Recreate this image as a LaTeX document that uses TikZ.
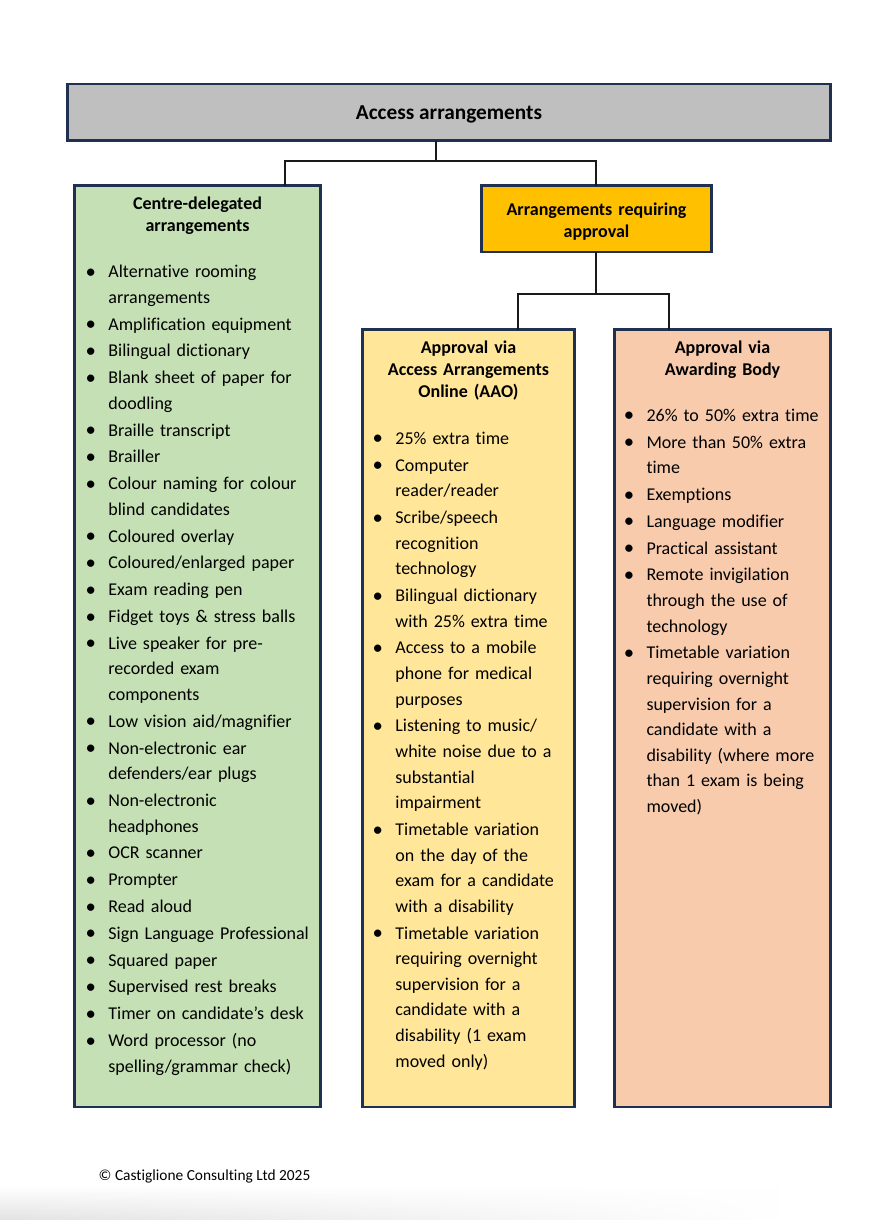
\documentclass[tikz,border=0pt]{standalone}
\usepackage{fontspec}
\setmainfont{Carlito}[Ligatures={NoCommon}]
\usetikzlibrary{fadings}
\definecolor{bordc}{HTML}{1F3050}
\definecolor{greyfill}{HTML}{BFBFBF}
\definecolor{greenfill}{HTML}{C5E0B4}
\definecolor{orangefill}{HTML}{FFC000}
\definecolor{yellowfill}{HTML}{FFE699}
\definecolor{peachfill}{HTML}{F8CBAD}
\newcommand\nl{\hfil\break}
\newlength\itemgap \setlength\itemgap{1.2pt}
\newcommand\fitm{\hangindent=17.5pt\hangafter=1\noindent\strut\makebox[17.5pt][l]{\makebox[0pt]{\raisebox{-0.6pt}{\scalebox{1.15}{\textbullet}}}}\ignorespaces}
\newcommand\itm{\par\vskip\itemgap\fitm}
\tikzset{
  boxnode/.style={draw=bordc, line width=2.2pt, rectangle, inner sep=0pt, outer sep=0pt},
  conn/.style={draw=black!90, line width=1.8pt},
  lst/.style={anchor=north west, inner sep=0pt, text width=270pt, font=\fontsize{18}{25.6}\selectfont},
  ttl/.style={anchor=north, inner sep=0pt, align=center, font=\bfseries\fontsize{18}{22}\selectfont},
}
\begin{document}
\begin{tikzpicture}[x=1pt,y=-1pt]
\useasboundingbox (0,0) rectangle (893,1220);
\fill[white] (0,0) rectangle (893,1220);
\shade[top color=white, bottom color=black!11, path fading=east] (0,1186) rectangle (780,1220);

% boxes
\node[boxnode, fill=greyfill, minimum width=763pt, minimum height=56.5pt] (top) at (449,112.25) {};
\node[boxnode, fill=greenfill, minimum width=246pt, minimum height=921.5pt] (green) at (197.5,646.25) {};
\node[boxnode, fill=orangefill, minimum width=230pt, minimum height=66.5pt] (orange) at (596.5,218.75) {};
\node[boxnode, fill=yellowfill, minimum width=212pt, minimum height=777.5pt] (aao) at (468.5,718.25) {};
\node[boxnode, fill=peachfill, minimum width=216pt, minimum height=777.5pt] (ab) at (722.5,718.25) {};

% connectors
\coordinate (xa) at (436.3,161);
\coordinate (xb) at (284.8,161);
\coordinate (xc) at (595.8,161);
\coordinate (ya) at (595.8,294);
\coordinate (yb) at (517.8,294);
\coordinate (yc) at (668.8,294);
\draw[conn] (top.south -| xa) -- (xa);
\draw[conn] (green.north -| xb) -- (xb) -- (xc) -- (orange.north -| xc);
\draw[conn] (orange.south -| ya) -- (ya);
\draw[conn] (aao.north -| yb) -- (yb) -- (yc) -- (ab.north -| yc);

% titles
\node[anchor=base, inner sep=0pt, font=\bfseries\fontsize{21.3}{25}\selectfont] (toptitle) at (449,119.3) {Access arrangements};
\node[ttl, text width=240pt] (greentitle) at (197.5,193.9) {\strut Centre-delegated\\arrangements};
\node[ttl, text width=226pt] (orangetitle) at (596.5,199.6) {\strut Arrangements requiring\\approval};
\node[ttl, text width=208pt] (aaotitle) at (468.5,337.9) {\strut Approval via\\Access Arrangements\\Online (AAO)};
\node[ttl, text width=212pt] (abtitle) at (722.5,337.9) {\strut Approval via\\Awarding Body};

% lists
\node[lst] (greenlist) at (90.7,259.6) {%
\fitm Alternative rooming\nl arrangements
\itm Amplification equipment
\itm Bilingual dictionary
\itm Blank sheet of paper for\nl doodling
\itm Braille transcript
\itm Brailler
\itm Colour naming for colour\nl blind candidates
\itm Coloured overlay
\itm Coloured/enlarged paper
\itm Exam reading pen
\itm Fidget toys \& stress balls
\itm Live speaker for pre-\nl recorded exam\nl components
\itm Low vision aid/magnifier
\itm Non-electronic ear\nl defenders/ear plugs
\itm Non-electronic\nl headphones
\itm OCR scanner
\itm Prompter
\itm Read aloud
\itm Sign Language Professional
\itm Squared paper
\itm Supervised rest breaks
\itm Timer on candidate’s desk
\itm Word processor (no\nl spelling/grammar check)\par};

\node[lst] (aaolist) at (377.7,426.1) {%
\fitm 25\% extra time
\itm Computer\nl reader/reader
\itm Scribe/speech\nl recognition\nl technology
\itm Bilingual dictionary\nl with 25\% extra time
\itm Access to a mobile\nl phone for medical\nl purposes
\itm Listening to music/\nl white noise due to a\nl substantial\nl impairment
\itm Timetable variation\nl on the day of the\nl exam for a candidate\nl with a disability
\itm Timetable variation\nl requiring overnight\nl supervision for a\nl candidate with a\nl disability (1 exam\nl moved only)\par};

\node[lst] (ablist) at (628.8,403.1) {%
\fitm 26\% to 50\% extra time
\itm More than 50\% extra\nl time
\itm Exemptions
\itm Language modifier
\itm Practical assistant
\itm Remote invigilation\nl through the use of\nl technology
\itm Timetable variation\nl requiring overnight\nl supervision for a\nl candidate with a\nl disability (where more\nl than 1 exam is being\nl moved)\par};

% footer
\node[anchor=base west, inner sep=0pt, font=\fontsize{15.4}{18}\selectfont] (footer) at (98.5,1180) {© Castiglione Consulting Ltd 2025};
\end{tikzpicture}
\end{document}
